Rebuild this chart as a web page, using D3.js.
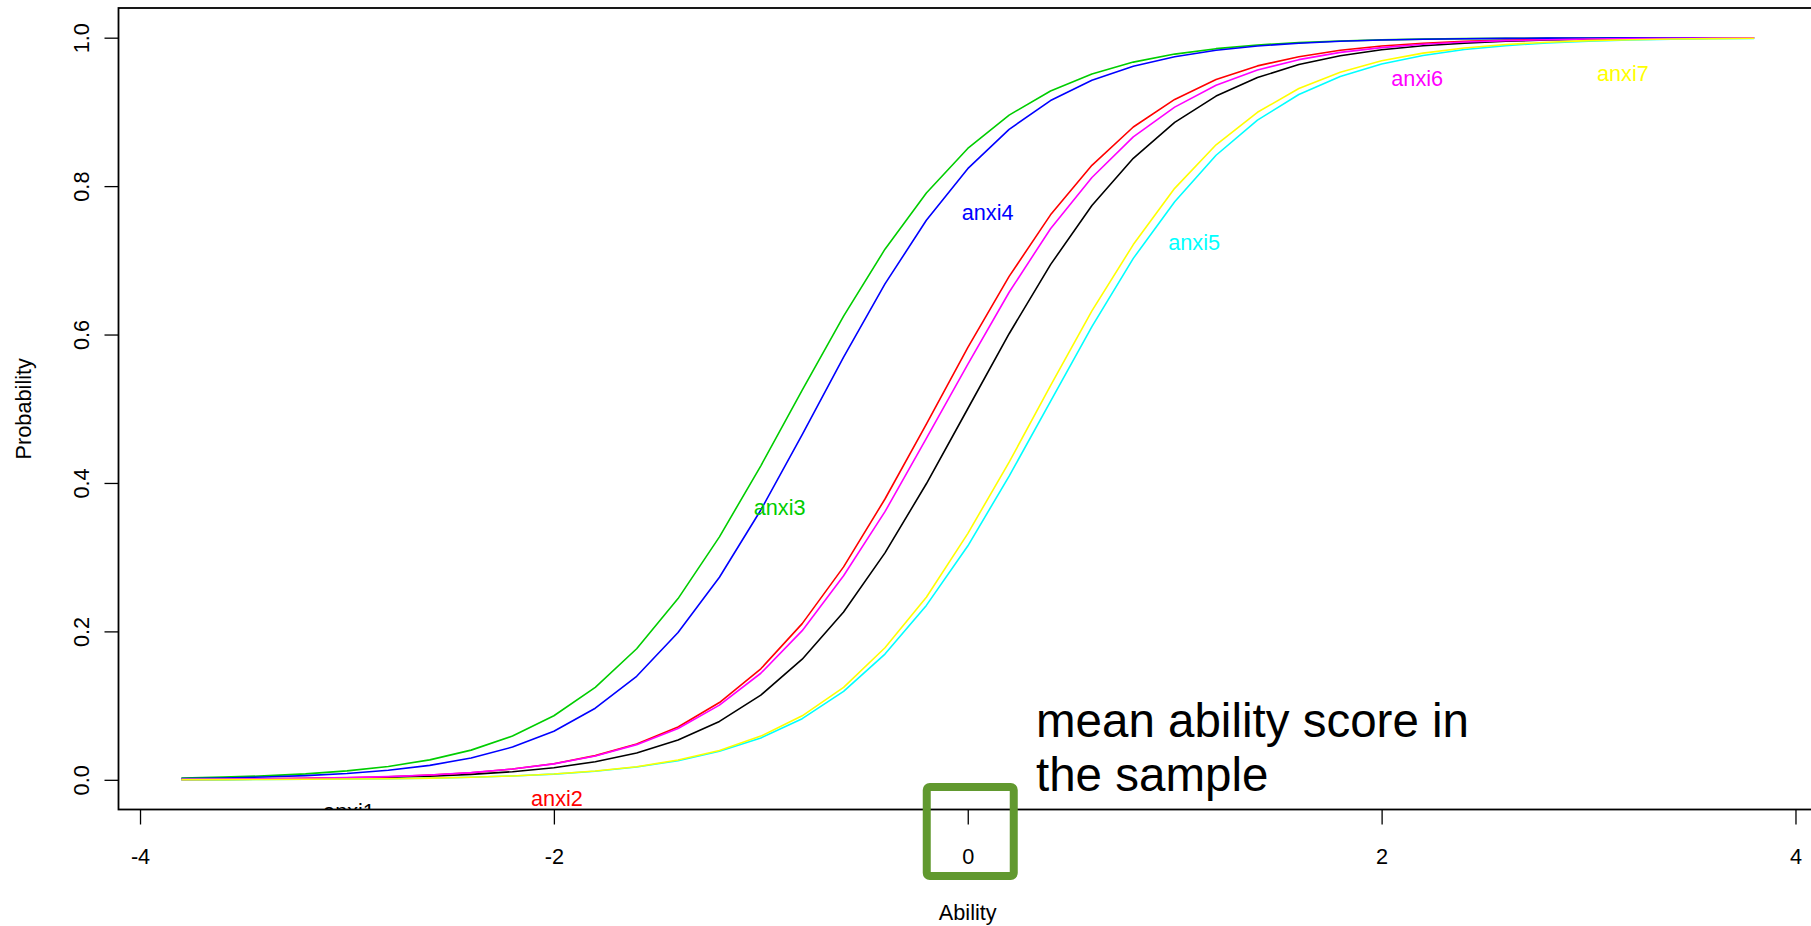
<!DOCTYPE html>
<html>
<head>
<meta charset="utf-8">
<script src="https://cdn.jsdelivr.net/npm/d3@7"></script>
<style>
html,body{margin:0;padding:0;background:#ffffff;}
svg{display:block;font-family:"Liberation Sans",Arial,Helvetica,sans-serif;}
</style>
</head>
<body>
<svg id="chart" width="1811" height="926"></svg>
<script>
// ---- data ----
const ability = [-3.8,-3.6,-3.4,-3.2,-3.0,-2.8,-2.6,-2.4,-2.2,-2.0,-1.8,-1.6,-1.4,-1.2,-1.0,-0.8,-0.6,-0.4,-0.2,0.0,0.2,0.4,0.6,0.8,1.0,1.2,1.4,1.6,1.8,2.0,2.2,2.4,2.6,2.8,3.0,3.2,3.4,3.6,3.8];

const anxi1 = [0.0004,0.0006,0.0009,0.0014,0.0021,0.0032,0.0048,0.0073,0.0109,0.0163,0.0244,0.0362,0.0537,0.0787,0.1141,0.1625,0.2262,0.3058,0.3989,0.5000,0.6011,0.6942,0.7738,0.8375,0.8859,0.9213,0.9463,0.9638,0.9756,0.9837,0.9891,0.9927,0.9952,0.9968,0.9979,0.9986,0.9991,0.9994,0.9996];
const anxi2 = [0.0005,0.0008,0.0012,0.0019,0.0028,0.0042,0.0064,0.0096,0.0145,0.0217,0.0326,0.0483,0.0712,0.1041,0.1496,0.2105,0.2869,0.3784,0.4793,0.5824,0.6783,0.7613,0.8280,0.8797,0.9168,0.9437,0.9620,0.9744,0.9830,0.9887,0.9925,0.9950,0.9967,0.9978,0.9986,0.9990,0.9994,0.9996,0.9997];
const anxi3 = [0.0024,0.0036,0.0053,0.0080,0.0120,0.0180,0.0269,0.0400,0.0590,0.0863,0.1246,0.1766,0.2442,0.3274,0.4231,0.5250,0.6248,0.7150,0.7908,0.8507,0.8957,0.9282,0.9512,0.9671,0.9779,0.9852,0.9901,0.9934,0.9956,0.9971,0.9981,0.9987,0.9991,0.9994,0.9996,0.9997,0.9998,0.9999,0.9999];
const anxi4 = [0.0016,0.0024,0.0037,0.0056,0.0085,0.0129,0.0195,0.0294,0.0441,0.0655,0.0965,0.1395,0.1985,0.2730,0.3636,0.4651,0.5696,0.6682,0.7540,0.8235,0.8765,0.9153,0.9427,0.9616,0.9744,0.9830,0.9888,0.9926,0.9951,0.9968,0.9979,0.9986,0.9991,0.9994,0.9996,0.9997,0.9998,0.9999,0.9999];
const anxi5 = [0.0002,0.0003,0.0004,0.0007,0.0010,0.0015,0.0023,0.0034,0.0052,0.0077,0.0116,0.0173,0.0258,0.0384,0.0564,0.0824,0.1192,0.1694,0.2350,0.3150,0.4092,0.5100,0.6106,0.7026,0.7790,0.8416,0.8889,0.9234,0.9478,0.9645,0.9761,0.9840,0.9893,0.9929,0.9952,0.9968,0.9979,0.9986,0.9991];
const anxi6 = [0.0006,0.0009,0.0013,0.0019,0.0029,0.0043,0.0065,0.0097,0.0145,0.0215,0.0320,0.0474,0.0692,0.1006,0.1436,0.2010,0.2749,0.3613,0.4601,0.5597,0.6570,0.7426,0.8116,0.8664,0.9064,0.9358,0.9565,0.9704,0.9802,0.9866,0.9911,0.9941,0.9960,0.9973,0.9982,0.9988,0.9992,0.9995,0.9997];
const anxi7 = [0.0002,0.0003,0.0004,0.0007,0.0010,0.0015,0.0023,0.0034,0.0052,0.0078,0.0118,0.0177,0.0266,0.0395,0.0589,0.0862,0.1246,0.1779,0.2460,0.3318,0.4280,0.5310,0.6318,0.7212,0.7970,0.8557,0.8995,0.9315,0.9535,0.9689,0.9792,0.9861,0.9908,0.9939,0.9960,0.9973,0.9982,0.9988,0.9992];

const itemNames  = ["anxi1","anxi2","anxi3","anxi4","anxi5","anxi6","anxi7"];
const itemColors = ["#000000","#FF0000","#00CD00","#0000FF","#00FFFF","#FF00FF","#FFFF00"];
const labelX = [-2.99,-1.985,-0.909,0.096,1.094,2.172,3.166];
const labelY = [-0.042,-0.025,0.367,0.765,0.724,0.945,0.9525];

const xTicks = [-4,-2,0,2,4];
const xTickLabels = ["-4","-2","0","2","4"];
const yTicks = [0,0.2,0.4,0.6,0.8,1.0];
const yTickLabels = ["0.0","0.2","0.4","0.6","0.8","1.0"];
const xTitle = "Ability";
const yTitle = "Probability";
const noteLines = ["mean ability score in","the sample"];
const highlightX = 0;

// ---- layout ----
const svg = d3.select("#chart");
const plot = {left:118.5, right:1817, top:8, bottom:809.5};
const x = d3.scaleLinear().domain([-4.104, 4.104]).range([plot.left, plot.right]);
const y = d3.scaleLinear().domain([-0.04, 1.04]).range([plot.bottom, plot.top]);
const FS = 21.7;

svg.append("defs").append("clipPath").attr("id","plotclip")
  .append("rect").attr("x",plot.left).attr("y",plot.top)
  .attr("width",plot.right-plot.left).attr("height",plot.bottom-plot.top);

// curves
const series = [anxi1,anxi2,anxi3,anxi4,anxi5,anxi6,anxi7];
const line = d3.line().x((d,i)=>x(ability[i])).y(d=>y(d));
const gLines = svg.append("g").attr("clip-path","url(#plotclip)");
series.forEach((vals,k)=>{
  gLines.append("path").datum(vals).attr("d",line)
    .attr("fill","none").attr("stroke",itemColors[k]).attr("stroke-width",1.6)
    .attr("stroke-linejoin","round");
});

// item labels (clipped to plot region like R)
const gLab = svg.append("g").attr("clip-path","url(#plotclip)");
itemNames.forEach((nm,k)=>{
  gLab.append("text").attr("x",x(labelX[k])).attr("y",y(labelY[k]))
    .attr("dy","0.35em").attr("text-anchor","middle")
    .attr("font-size",FS).attr("fill",itemColors[k]).text(nm);
});

// box
svg.append("rect").attr("x",plot.left).attr("y",plot.top)
  .attr("width",plot.right-plot.left).attr("height",plot.bottom-plot.top)
  .attr("fill","none").attr("stroke","#000").attr("stroke-width",1.8);

// x axis
const gx = svg.append("g").attr("transform",`translate(0,${plot.bottom})`)
  .call(d3.axisBottom(x).tickValues(xTicks).tickFormat((d,i)=>xTickLabels[i]).tickSize(15).tickPadding(24));
gx.select(".domain").remove();
gx.selectAll(".tick line").attr("stroke","#000").attr("stroke-width",1.3);
gx.selectAll(".tick text").attr("font-size",FS).attr("fill","#000").attr("font-family",null);
gx.attr("font-family",null);

// y axis
const gy = svg.append("g").attr("transform",`translate(${plot.left},0)`)
  .call(d3.axisLeft(y).tickValues(yTicks).tickFormat((d,i)=>yTickLabels[i]).tickSize(14));
gy.select(".domain").remove();
gy.attr("font-family",null);
gy.selectAll(".tick line").attr("stroke","#000").attr("stroke-width",1.3);
gy.selectAll(".tick text").attr("font-size",FS).attr("fill","#000")
  .attr("x",null).attr("dy","0.35em").attr("text-anchor","middle")
  .attr("transform",`translate(${81-plot.left},0) rotate(-90)`);

// axis titles
svg.append("text").attr("x",x(0)).attr("y",912).attr("dy","0.35em")
  .attr("text-anchor","middle").attr("font-size",FS).text(xTitle);
svg.append("text").attr("transform",`translate(23,${y(0.5)}) rotate(-90)`)
  .attr("dy","0.35em").attr("text-anchor","middle").attr("font-size",FS).text(yTitle);

// annotation
const hx = x(highlightX);
svg.append("rect").attr("x",hx-41).attr("y",787).attr("width",87).attr("height",89)
  .attr("rx",3).attr("fill","none").attr("stroke","#61992f").attr("stroke-width",8);
const note = svg.append("text").attr("font-size",47.5).attr("fill","#000");
noteLines.forEach((t,i)=>{
  note.append("tspan").attr("x",1036).attr("y",737+i*53.5).text(t);
});
</script>
</body>
</html>
